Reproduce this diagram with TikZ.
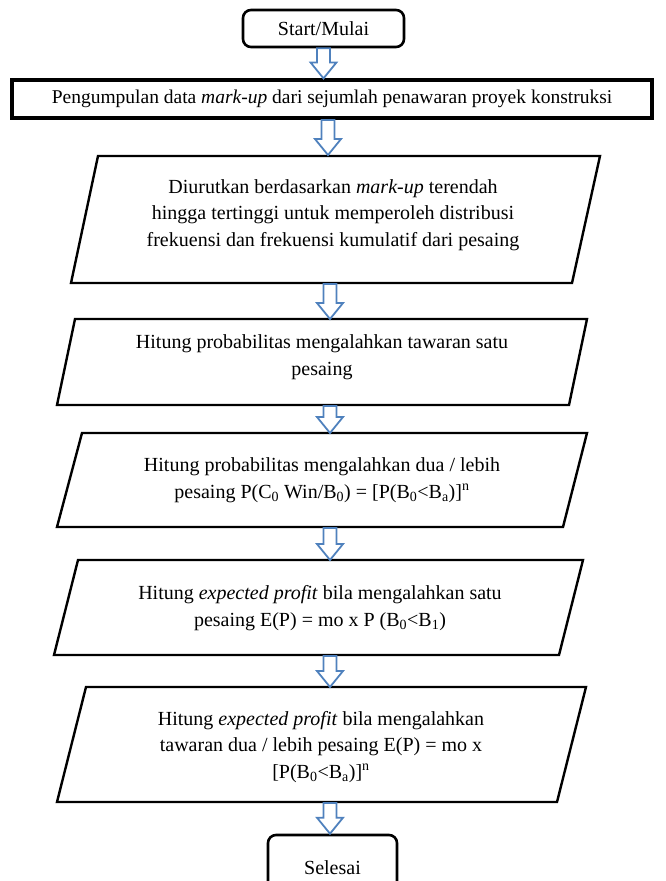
\documentclass[tikz,border=0pt]{standalone}
\usepackage{fontspec}
\setmainfont{Liberation Serif}
\usetikzlibrary{calc}
\definecolor{arrblue}{RGB}{79,129,189}
\tikzset{
  boxline/.style={draw=black, line width=2.4pt, line join=miter},
  txt/.style={align=center, font=\fontsize{20}{26.5}\selectfont, inner sep=0pt},
  rbox/.style={draw=black, line width=2.6pt, rounded corners=8pt, txt},
  sqbox/.style={draw=black, line width=3.2pt, txt, font=\fontsize{19.5}{26}\selectfont},
  blockarr/.style={draw=arrblue, fill=white, line width=1.8pt, line join=miter},
}
\newcommand\blockdown[2]{%
  \draw[blockarr] let \p1=(#1), \p2=(#2) in
    (\x1-6.5pt,\y1) -- (\x1+6.5pt,\y1) -- (\x1+6.5pt,\y2+16pt) -- (\x1+13pt,\y2+16pt)
    -- (\x1,\y2) -- (\x1-13pt,\y2+16pt) -- (\x1-6.5pt,\y2+16pt) -- cycle;}
\begin{document}
\begin{tikzpicture}[x=1pt,y=-1pt]
\useasboundingbox (0,0) rectangle (666,881);

% start
\node[rbox, minimum width=161pt, minimum height=37pt] (start) at (323.5,28.5) {Start/Mulai};

% collect
\node[sqbox, minimum width=640pt, minimum height=38pt] (collect) at (332,99)
  {Pengumpulan data \textit{mark-up} dari sejumlah penawaran proyek konstruksi};

% sort
\draw[boxline] (98,156) -- (600,156) -- (572,283) -- (71,283) -- cycle;
\node[txt] (sort) at (333,215) {Diurutkan berdasarkan \textit{mark-up} terendah\\hingga tertinggi untuk memperoleh distribusi\\frekuensi dan frekuensi kumulatif dari pesaing};
\coordinate (sortT) at (329,156);
\coordinate (sortB) at (330,284);

% prob one
\draw[boxline] (75,319) -- (587,319) -- (569,405) -- (57,405) -- cycle;
\node[txt] (probone) at (322,357) {Hitung probabilitas mengalahkan tawaran satu\\pesaing};
\coordinate (probT) at (330,319);
\coordinate (probB) at (330,406);

% prob many
\draw[boxline] (82,433) -- (587,433) -- (563,527) -- (57,527) -- cycle;
\node[txt] (probmany) at (322,480) {Hitung probabilitas mengalahkan dua / lebih\\pesaing P(C\textsubscript{0} Win/B\textsubscript{0}) = [P(B\textsubscript{0}<B\textsubscript{a})]\textsuperscript{n}};
\coordinate (pmT) at (330,433);
\coordinate (pmB) at (330,528);

% exp one
\draw[boxline] (78,560) -- (583,560) -- (559,655) -- (54,655) -- cycle;
\node[txt] (expone) at (320,608) {Hitung \textit{expected profit} bila mengalahkan satu\\pesaing E(P) = mo x P (B\textsubscript{0}<B\textsubscript{1})};
\coordinate (eoT) at (330,560);
\coordinate (eoB) at (330,656);

% exp many
\draw[boxline] (86,687) -- (586,687) -- (557,802) -- (57,802) -- cycle;
\node[txt] (expmany) at (321,747) {Hitung \textit{expected profit} bila mengalahkan\\tawaran dua / lebih pesaing E(P) = mo x\\{}[P(B\textsubscript{0}<B\textsubscript{a})]\textsuperscript{n}};
\coordinate (emT) at (330,687);
\coordinate (emB) at (330,803);

% end
\node[rbox, minimum width=129pt, minimum height=66pt] (finish) at (332.5,868) {Selesai};

% arrows
\blockdown{start.south}{collect.north}
\coordinate (a2s) at (328,120);
\coordinate (a2e) at (328,155);
\blockdown{a2s}{a2e}
\blockdown{sortB}{probT}
\blockdown{probB}{pmT}
\blockdown{pmB}{eoT}
\blockdown{eoB}{emT}
\blockdown{emB}{finish.north}
\end{tikzpicture}
\end{document}
